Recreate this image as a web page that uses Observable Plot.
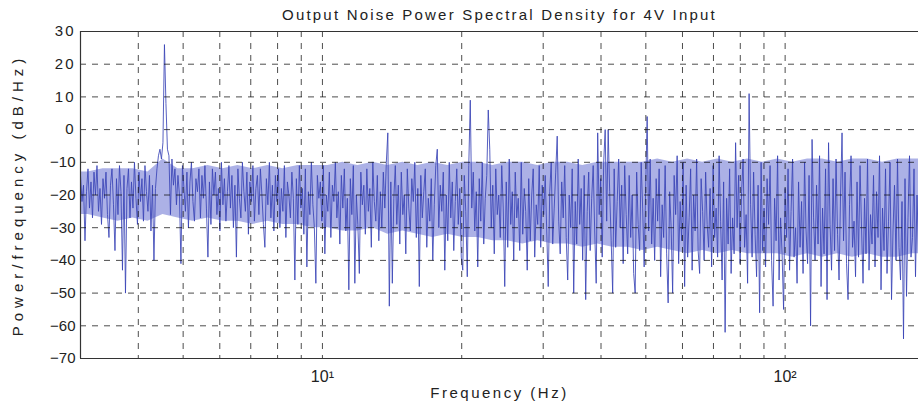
<!DOCTYPE html>
<html>
<head>
<meta charset="utf-8">
<script src="https://cdn.jsdelivr.net/npm/d3@7"></script>
<script src="https://cdn.jsdelivr.net/npm/@observablehq/plot@0.6"></script>
<style>
  html, body { margin: 0; padding: 0; background: #fff; }
  #chart svg { display: block; font-family: "Liberation Sans", Arial, Helvetica, sans-serif; }
</style>
</head>
<body>
<div id="chart"></div>
<script>
// ---- data ----
const chartTitle = "Output Noise Power Spectral Density for 4V Input";
const xAxisLabel = "Frequency (Hz)";
const yAxisLabel = "Power/frequency (dB/Hz)";

// spectrum sample grid (log-spaced bins) in Hz
const freqStartHz = 3.0;
const freqStopHz = 194.2;

// PSD values in dB/Hz, low to high frequency
const psdDb = [
  -14,-22,-17,-34,-19,-12,-24,-16,-27,-13,
  -20,-11,-25,-18,-29,-15,-21,-13,-26,-33,
  -17,-12,-23,-37,-15,-26,-11,-19,-43,-14,
  -50,-18,-12,-27,-16,-24,-10,-21,-29,-13,
  -22,-15,-28,-11,-19,-25,-14,-31,-17,-40,
  -18,-12,-8,-6,-9,-4,26,8,-6,-8,
  -26,-9,-17,-12,-23,-14,-20,-41,-11,-18,
  -25,-13,-30,-16,-10,-22,-28,-15,-19,-12,
  -27,-14,-21,-11,-24,-39,-16,-29,-12,-20,
  -13,-26,-18,-31,-10,-23,-15,-28,-19,-11,
  -24,-14,-30,-17,-39,-12,-21,-27,-10,-19,
  -25,-13,-32,-16,-22,-11,-28,-18,-14,-26,
  -12,-20,-29,-36,-15,-23,-10,-27,-17,-31,
  -14,-22,-12,-30,-18,-25,-11,-33,-16,-20,
  -27,-13,-21,-46,-15,-29,-11,-24,-18,-32,
  -12,-42,-19,-26,-10,-23,-30,-47,-14,-21,
  -16,-28,-11,-38,-20,-25,-13,-33,-17,-22,
  -10,-27,-19,-35,-14,-24,-12,-31,-21,-49,
  -15,-26,-11,-47,-20,-29,-44,-13,-23,-17,
  -32,-12,-25,-18,-36,-10,-22,-28,-14,-34,
  -19,-30,-13,-24,-10,-1,-54,-16,-47,-21,
  -11,-29,-17,-35,-13,-26,-20,-38,-12,-24,
  -31,-15,-22,-10,-33,-18,-48,-14,-27,-19,
  -12,-36,-21,-28,-15,-40,-23,-11,-6,-30,
  -17,-25,-13,-43,-20,-34,-10,-27,-16,-37,
  -22,-12,-29,-18,-39,-43,-14,-25,-45,-11,
  9,-24,-13,-31,-19,-42,-15,-28,-10,-35,
  -21,-14,6,-6,-30,-17,-38,-12,-26,-20,
  -33,-11,-24,-48,-16,-36,-9,-29,-19,-40,
  -13,-27,-21,-37,-10,-32,-18,-25,-43,-15,
  -34,-20,-12,-39,-23,-29,-11,-36,-17,-26,
  -14,-31,-48,-19,-10,-35,-24,-13,-2,-28,
  -38,-16,-27,-11,-33,-46,-20,-30,-12,-50,
  -22,-35,-9,-29,-18,-40,-14,-52,-25,-13,
  -37,-21,-11,-31,-47,-1,-26,-15,-39,-10,
  0,-28,0,-19,-34,-50,-12,-36,-22,-9,
  -30,-17,-41,-11,-26,-38,-14,-33,-20,-44,
  -50,-13,-29,-37,-10,-24,-42,-18,4,-31,
  -9,-35,-21,-40,-15,-28,-12,-45,-23,-33,
  -11,-38,-53,-19,-30,-50,-14,-26,-8,-41,
  -22,-34,-10,-48,-17,-39,-27,-12,-43,-20,
  -31,-9,-37,-44,-15,-25,-40,-13,-29,-36,
  -18,-42,-11,-33,-24,-39,-8,-28,-46,-16,
  -62,-21,-35,-12,-44,-27,-38,-4,-30,-14,
  -41,-19,-9,-36,-26,-47,11,-23,-39,-13,
  -32,-45,-17,-56,-10,-37,-24,-42,-15,-29,
  -11,-40,-54,-21,-34,-8,-46,-27,-38,-55,
  -18,-33,-12,-43,-25,-9,-39,-30,-47,-16,
  -36,-22,-44,-10,-31,-41,-14,-60,-3,-27,
  -40,-17,-35,-8,-48,-24,-38,-12,-52,-4,
  -29,-43,-15,-37,-9,-32,-46,-20,-1,-34,
  -13,-41,-52,-23,-8,-36,-28,-45,-16,-39,
  -11,-30,-47,-21,-38,-9,-43,-26,-35,-14,
  -42,-19,-33,-8,-49,-24,-37,-12,-44,-28,
  -10,-52,-31,-17,-40,-9,-36,-46,-22,-64,
  -15,-51,-27,-8,-39,-33,-12,-45,-20,-37
];

// dense-band envelope (one value per 10 bins), dB/Hz
const bandTopDb = [
  -13,-12,-12,-12,-13,-9,-12,-12,-11,-12,
  -11,-12,-11,-12,-11,-11,-11,-10,-11,-10,
  -11,-10,-11,-10,-11,-10,-10,-11,-10,-10,
  -11,-10,-10,-11,-10,-10,-10,-10,-9,-10,
  -9,-10,-9,-10,-9,-10,-9,-10,-9,-9,
  -10,-9,-9,-10,-9,-9
];
const bandBottomDb = [
  -26,-27,-28,-27,-28,-26,-27,-28,-27,-28,
  -28,-29,-28,-29,-29,-30,-30,-31,-31,-30,
  -32,-31,-32,-33,-32,-33,-33,-34,-34,-35,
  -34,-35,-35,-36,-35,-36,-36,-37,-36,-37,
  -38,-37,-38,-37,-38,-38,-38,-39,-38,-39,
  -38,-39,-38,-39,-39,-38
];

const yTicks = [-70, -60, -50, -40, -30, -20, -10, 0, 10, 20, 30];
const xGridHz = [4, 5, 6, 7, 8, 9, 10, 20, 30, 40, 50, 60, 70, 80, 90, 100];
const xLabelTicks = [10, 100];
const xLabelText = ["10\u00B9", "10\u00B2"];

// ---- build tables ----
const n = psdDb.length;
const binHz = (i) => freqStartHz * Math.pow(freqStopHz / freqStartHz, Math.min(i, n - 1) / (n - 1));
const spectrum = psdDb.map((db, i) => ({ f: binHz(i), db }));
const band = bandTopDb.map((top, b) => ({ f: binHz(b * 10 + 5), top, bottom: bandBottomDb[b] }));
band.unshift({ f: binHz(0), top: bandTopDb[0], bottom: bandBottomDb[0] });
band.push({ f: binHz(n - 1), top: bandTopDb[bandTopDb.length - 1], bottom: bandBottomDb[bandBottomDb.length - 1] });

const font = "Liberation Sans, Arial, Helvetica, sans-serif";
const gridStyle = { stroke: "#111", strokeOpacity: 0.75, strokeWidth: 1, strokeDasharray: "6,6" };

const chart = Plot.plot({
  width: 918,
  height: 403,
  marginLeft: 80,
  marginRight: 0,
  marginTop: 31,
  marginBottom: 45,
  style: { fontFamily: font, fontSize: "14px", color: "#222", background: "#fff" },
  x: { type: "log", domain: [freqStartHz, freqStopHz], axis: null },
  y: { domain: [-70, 30], axis: null },
  marks: [
    Plot.areaY(band, { x: "f", y1: "bottom", y2: "top", fill: "#8c93dd", fillOpacity: 0.72 }),
    Plot.line(spectrum, { x: "f", y: "db", stroke: "#3a44b6", strokeWidth: 0.9, strokeOpacity: 0.95 }),
    Plot.gridX(xGridHz, gridStyle),
    Plot.gridY(yTicks, gridStyle),
    Plot.ruleX([freqStartHz], { stroke: "#333", strokeWidth: 1.2 }),
    Plot.ruleY([-70, 30], { stroke: "#333", strokeWidth: 1.2 }),
    Plot.axisY(yTicks, { tickSize: 0, tickPadding: 5, fontSize: 15, label: null, fill: "#222" }),
    Plot.axisX(xLabelTicks, {
      tickSize: 0, tickPadding: 12, fontSize: 16, label: null, fill: "#222",
      tickFormat: (d) => xLabelText[xLabelTicks.indexOf(d)]
    }),
    Plot.text([chartTitle], { frameAnchor: "top", dy: -22, fontSize: 15, fill: "#222" }),
    Plot.text([xAxisLabel], { frameAnchor: "bottom", dy: 39, fontSize: 15, fill: "#222" }),
    Plot.text([yAxisLabel], { frameAnchor: "left", textAnchor: "middle", dx: -62, rotate: -90, fontSize: 15, fill: "#222" })
  ]
});

document.getElementById("chart").appendChild(chart);
const sel = d3.select(chart).selectAll("text");
sel.filter(function () { return this.textContent === yAxisLabel; }).style("letter-spacing", "5px");
sel.filter(function () { return this.textContent === chartTitle; }).style("letter-spacing", "2.2px");
sel.filter(function () { return this.textContent === xAxisLabel; }).style("letter-spacing", "2.5px");
sel.filter(function () { return /^-?\d+$/.test(this.textContent); }).style("letter-spacing", "2px");
</script>
</body>
</html>
